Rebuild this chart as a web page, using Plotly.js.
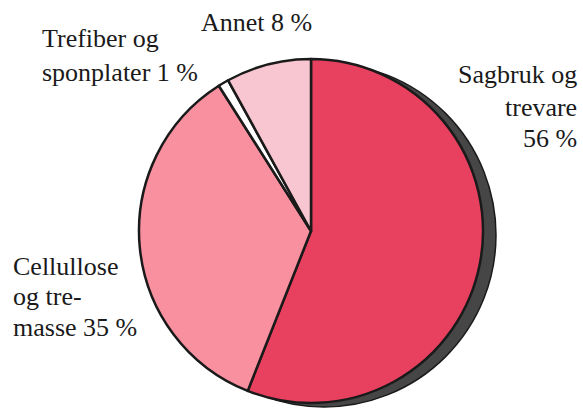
<!DOCTYPE html>
<html>
<head>
<meta charset="utf-8">
<script src="https://cdn.plot.ly/plotly-3.0.1.min.js"></script>
<style>html,body{margin:0;padding:0;background:#fff;}#chart{width:583px;height:410px;}</style>
</head>
<body>
<div id="chart"></div>
<script>
const categories = ["Sagbruk og trevare", "Cellullose og tremasse", "Trefiber og sponplater", "Annet"];
const shares = [56, 35, 1, 8];
const labelLines = [
  ["Sagbruk og", "trevare", "56 %"],
  ["Cellullose", "og tre-", "masse 35 %"],
  ["Trefiber og", "sponplater 1 %"],
  ["Annet 8 %"]
];
const sliceColors = ["#e8405f", "#f8909f", "#ffffff", "#f8c6d1"];

const W = 583, H = 410;
const cx = 311, cy = 231, r = 172;
const px = v => v / W;
const py = v => 1 - v / H;

// label placement (pixels): anchor x, alignment, and centre y of each line
const labelPlace = [
  {x: 579, anchor: "right", ys: [75, 107, 138]},
  {x: 11, anchor: "left", ys: [266, 296, 327]},
  {x: 40, anchor: "left", ys: [39, 73]},
  {x: 256, anchor: "center", ys: [22]}
];

const shadow = {
  type: "pie",
  values: [100],
  labels: ["shadow"],
  sort: false,
  textinfo: "none",
  hoverinfo: "skip",
  marker: {colors: ["#464646"], line: {color: "#1a1a1a", width: 1.5}},
  domain: {x: [px(cx - r + 13), px(cx + r + 13)], y: [py(cy + r + 4), py(cy - r + 4)]},
  showlegend: false
};

const pie = {
  type: "pie",
  values: shares,
  labels: categories,
  sort: false,
  direction: "clockwise",
  rotation: 0,
  textinfo: "none",
  marker: {colors: sliceColors, line: {color: "#1a1a1a", width: 2.5}},
  domain: {x: [px(cx - r), px(cx + r)], y: [py(cy + r), py(cy - r)]},
  showlegend: false
};

const annotations = [];
labelLines.forEach((lines, i) => {
  const p = labelPlace[i];
  lines.forEach((t, j) => {
    annotations.push({
      text: t, xref: "paper", yref: "paper", showarrow: false,
      x: px(p.x), y: py(p.ys[j]), xanchor: p.anchor, yanchor: "middle", align: p.anchor,
      font: {family: "Liberation Serif", size: 26, color: "#1a1a1a"}
    });
  });
});

Plotly.newPlot("chart", [shadow, pie], {
  width: W, height: H,
  margin: {l: 0, r: 0, t: 0, b: 0},
  paper_bgcolor: "#ffffff",
  showlegend: false,
  annotations: annotations
}, {displayModeBar: false});
</script>
</body>
</html>
